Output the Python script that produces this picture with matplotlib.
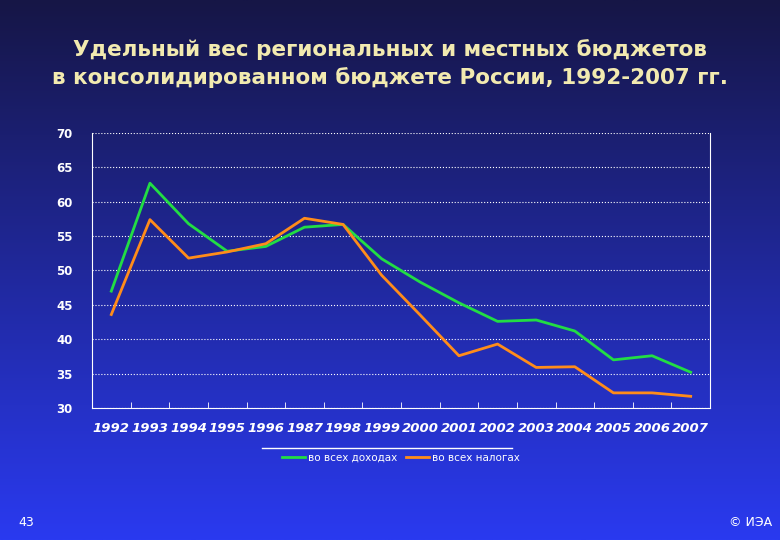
import matplotlib
matplotlib.use("Agg")
import matplotlib.pyplot as plt
import numpy as np

years = ["1992","1993","1994","1995","1996","1997","1998","1999","2000","2001","2002","2003","2004","2005","2006","2007"]
year_labels = ["1992","1993","1994","1995","1996","1987","1998","1999","2000","2001","2002","2003","2004","2005","2006","2007"]
income = [47.0,62.7,56.8,52.8,53.5,56.3,56.7,51.7,48.3,45.3,42.6,42.8,41.2,37.0,37.6,35.2]
taxes = [43.6,57.4,51.8,52.7,53.9,57.6,56.7,49.3,43.5,37.6,39.3,35.9,36.0,32.2,32.2,31.7]

W, H = 780, 540
fig = plt.figure(figsize=(W/100, H/100), dpi=100)
bg = fig.add_axes([0, 0, 1, 1], zorder=-10)
t = np.linspace(0, 1, 256)[:, None]
top = np.array([22, 22, 70]) / 255
bot = np.array([42, 58, 240]) / 255
img = top + (bot - top) * t
img = np.repeat(img[:, None, :], 2, axis=1)
bg.imshow(img, aspect="auto", extent=[0, 1, 0, 1], origin="upper")
bg.axis("off")

ax = fig.add_axes([92/W, 1-408/H, (710-92)/W, (408-133)/H])
ax.patch.set_alpha(0)
x = np.arange(len(years))
ax.plot(x, income, color="#22dd44", lw=2)
ax.plot(x, taxes, color="#ff8c1a", lw=2)
ax.set_xlim(-0.5, len(years)-0.5)
ax.set_ylim(30, 70)
ax.set_yticks(range(30, 71, 5))
ax.set_xticks(x)
ax.set_xticklabels(year_labels)
for lab in ax.get_xticklabels():
    lab.set_fontstyle("italic")
ax.tick_params(colors="white", labelsize=9.5, length=0)
for lab in ax.get_xticklabels() + ax.get_yticklabels():
    lab.set_fontweight("bold")
ax.tick_params(axis="y", labelsize=8.5, pad=14)
ax.tick_params(axis="x", pad=10)
ax.grid(axis="y", color="white", ls=":", lw=0.8)
ax.spines["top"].set_visible(False)
for s in ["left", "bottom", "right"]:
    ax.spines[s].set_color("white")
ax.set_xticks(np.arange(-0.5, len(years)), minor=True)
ax.tick_params(axis="x", which="minor", length=4, color="white", direction="in")

leg = ax.legend(["во всех доходах", "во всех налогах"], loc="upper center",
                bbox_to_anchor=(0.5, -0.13), ncol=2, frameon=False,
                fontsize=7.5, handlelength=2.2, columnspacing=0.8, handletextpad=0.3)
for tx in leg.get_texts():
    tx.set_color("white")
fig.add_artist(plt.Line2D([262/W, 512/W], [1-448/H, 1-448/H], color="white", lw=1))

fig.text(0.5, 1-50/H, "Удельный вес региональных и местных бюджетов",
         ha="center", va="center", color="#f2eab0", fontsize=15.5, fontweight="bold")
fig.text(0.5, 1-78/H, "в консолидированном бюджете России, 1992-2007 гг.",
         ha="center", va="center", color="#f2eab0", fontsize=15.5, fontweight="bold")
fig.text(18/W, 1-522/H, "43", color="white", fontsize=9, va="center")
fig.text(772/W, 1-522/H, "© ИЭА", color="white", fontsize=9, va="center", ha="right")

fig.savefig("out.png", dpi=100)
